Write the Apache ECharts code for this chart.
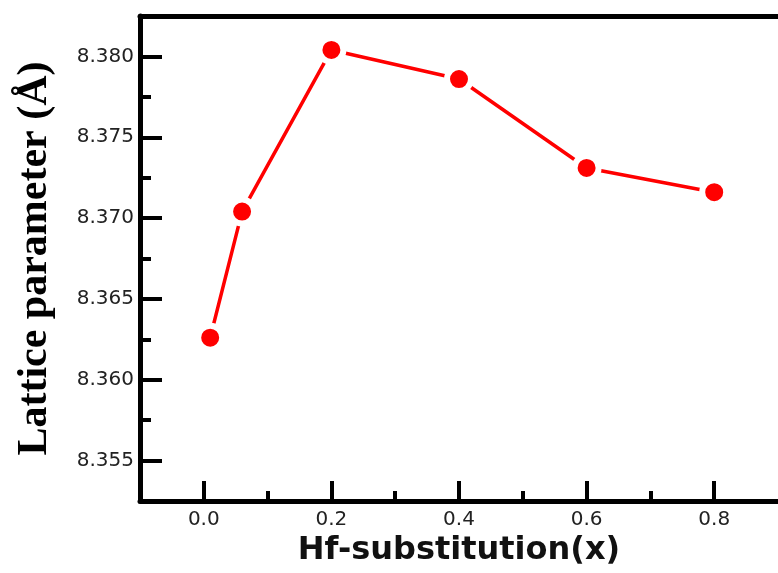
<!DOCTYPE html>
<html>
<head>
<meta charset="utf-8">
<script src="https://cdn.jsdelivr.net/npm/echarts@6/dist/echarts.min.js"></script>
<style>
  html, body { margin: 0; padding: 0; background: #fff; }
  #chart { width: 778px; height: 573px; }
</style>
</head>
<body>
<div id="chart"></div>
<script>
// ---- data ----
const xValues = [0.01, 0.06, 0.2, 0.4, 0.6, 0.8];
const latticeValues = [8.3626, 8.3704, 8.3804, 8.3786, 8.3731, 8.3716];

// ---- axis ticks ----
const xMajorTicks = [0.0, 0.2, 0.4, 0.6, 0.8];
const xMinorTicks = [0.1, 0.3, 0.5, 0.7];
const yMajorTicks = [8.355, 8.360, 8.365, 8.370, 8.375, 8.380];
const yMinorTicks = [8.3575, 8.3625, 8.3675, 8.3725, 8.3775];
const xRange = [-0.1, 0.9];
const yRange = [8.3525, 8.3825];

const xName = 'Hf-substitution(x)';
const yName = 'Lattice parameter (Å)';

const seriesData = xValues.map((x, i) => [x, latticeValues[i]]);

const chart = echarts.init(document.getElementById('chart'), null, { renderer: 'canvas' });

const tickLabelStyle = {
  fontFamily: 'DejaVu Sans',
  fontSize: 20,
  color: '#222'
};

chart.setOption({
  animation: false,
  backgroundColor: '#ffffff',
  grid: { left: 140, top: 16, right: -6.5, bottom: 72, containLabel: false },
  xAxis: [
    {
      type: 'value',
      min: xRange[0], max: xRange[1],
      position: 'bottom',
      name: xName,
      nameLocation: 'middle',
      nameGap: 33,
      nameTextStyle: { fontFamily: 'DejaVu Sans', fontWeight: 'bold', fontSize: 32, color: '#111' },
      axisLine: { show: true, onZero: false, lineStyle: { color: '#000', width: 5 } },
      axisTick: { show: true, inside: true, length: 20, customValues: xMajorTicks, lineStyle: { color: '#000', width: 4 } },
      axisLabel: { show: true, margin: 9, customValues: xMajorTicks, formatter: v => v.toFixed(1), ...tickLabelStyle },
      splitLine: { show: false }
    },
    {
      type: 'value',
      min: xRange[0], max: xRange[1],
      position: 'bottom',
      axisLine: { show: false, onZero: false },
      axisTick: { show: true, inside: true, length: 10, customValues: xMinorTicks, lineStyle: { color: '#000', width: 4 } },
      axisLabel: { show: false },
      splitLine: { show: false }
    },
    {
      type: 'value',
      min: xRange[0], max: xRange[1],
      position: 'top',
      axisLine: { show: true, onZero: false, lineStyle: { color: '#000', width: 5 } },
      axisTick: { show: false },
      axisLabel: { show: false },
      splitLine: { show: false }
    }
  ],
  yAxis: [
    {
      type: 'value',
      min: yRange[0], max: yRange[1],
      position: 'left',
      name: yName,
      nameLocation: 'middle',
      nameGap: 84,
      nameTextStyle: { fontFamily: 'Liberation Serif', fontWeight: 'bold', fontSize: 42, color: '#000' },
      axisLine: { show: true, onZero: false, lineStyle: { color: '#000', width: 5 } },
      axisTick: { show: true, inside: true, length: 22, customValues: yMajorTicks, lineStyle: { color: '#000', width: 4 } },
      axisLabel: { show: true, margin: 6, customValues: yMajorTicks, formatter: v => v.toFixed(3), ...tickLabelStyle },
      splitLine: { show: false }
    },
    {
      type: 'value',
      min: yRange[0], max: yRange[1],
      position: 'left',
      axisLine: { show: false, onZero: false },
      axisTick: { show: true, inside: true, length: 11, customValues: yMinorTicks, lineStyle: { color: '#000', width: 4 } },
      axisLabel: { show: false },
      splitLine: { show: false }
    }
  ],
  series: [
    {
      type: 'line',
      xAxisIndex: 0,
      yAxisIndex: 0,
      data: seriesData,
      symbol: 'circle',
      symbolSize: 24,
      lineStyle: { color: '#ff0000', width: 3.5 },
      itemStyle: { color: '#ff0000', borderColor: '#ffffff', borderWidth: 6 },
      z: 5
    }
  ]
});
</script>
</body>
</html>
